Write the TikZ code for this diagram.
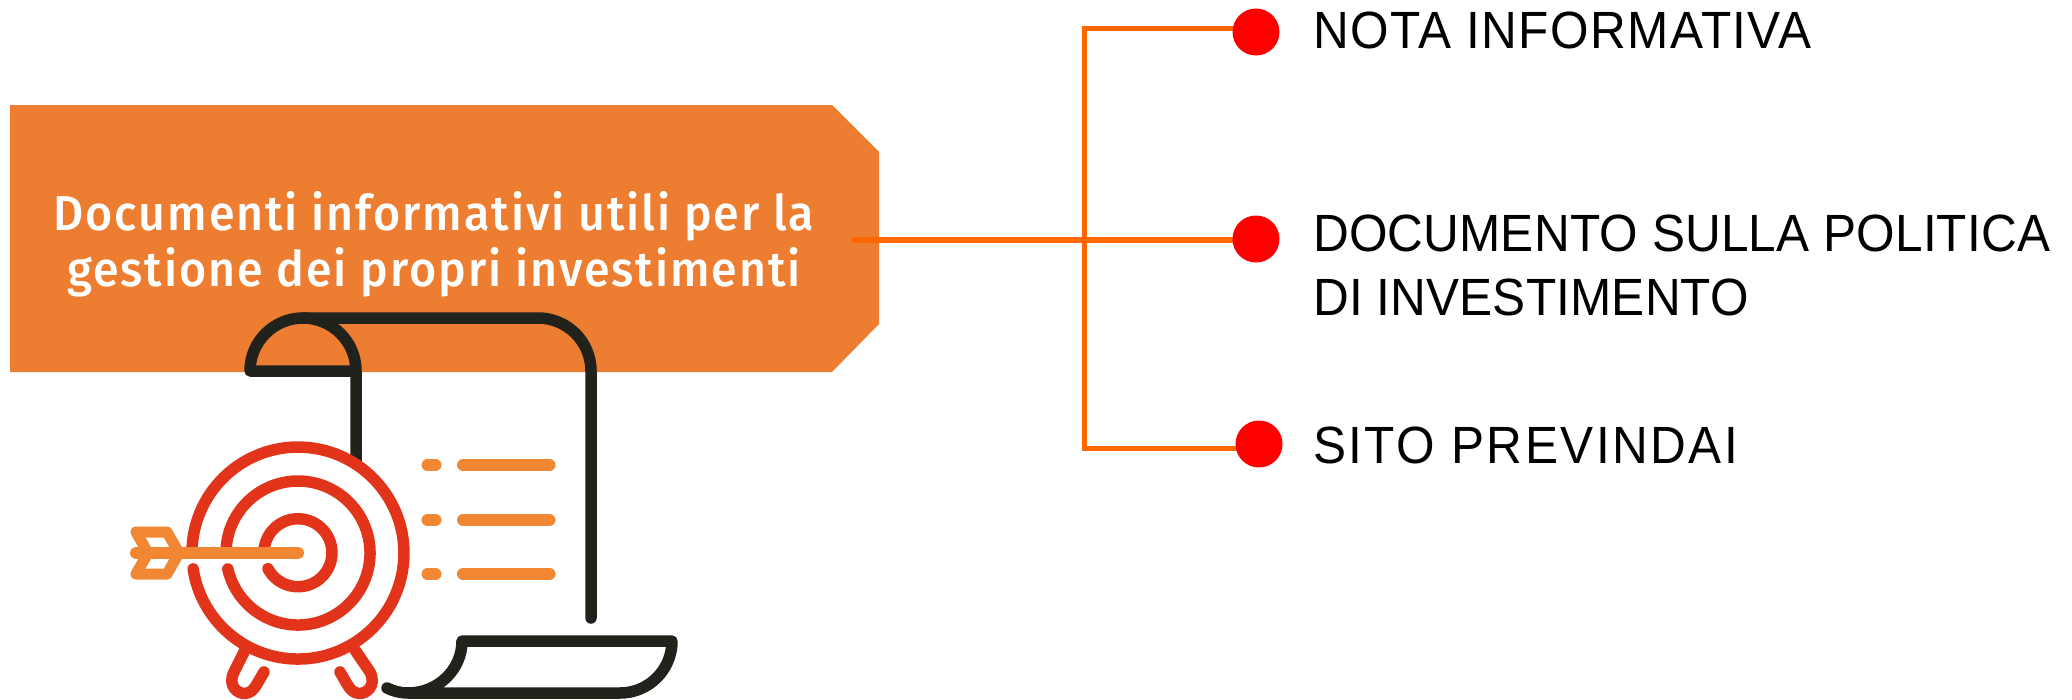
\documentclass[tikz,border=0pt]{standalone}
\usepackage{fontspec}
\setmainfont{Liberation Sans}
\newfontfamily\bannerfont[FakeStretch=0.95,LetterSpace=4]{Fira Sans Medium}
\newfontfamily\itemfonta[FakeStretch=0.945,LetterSpace=2.7]{Liberation Sans}
\newfontfamily\itemfontb[FakeStretch=0.945,LetterSpace=0.3]{Liberation Sans}
\newfontfamily\itemfontc[FakeStretch=0.945,LetterSpace=4.7]{Liberation Sans}
\definecolor{bannerc}{HTML}{ED7D31}
\definecolor{linec}{HTML}{FF6600}
\definecolor{dotc}{HTML}{FF0000}
\definecolor{inkc}{HTML}{22221C}
\definecolor{redc}{HTML}{E1341A}
\definecolor{arrowc}{HTML}{F28733}
\tikzset{
  x=1pt,y=-1pt,
  bannertext/.style={inner sep=0pt,text=white,align=center,font=\bannerfont\fontsize{49}{56}\selectfont},
  itemtext/.style={inner sep=0pt,text=black,align=left,anchor=base west},
  reddot/.style={circle,fill=dotc,inner sep=0pt,minimum size=47pt},
  wire/.style={draw=linec,line width=5pt},
  mainwire/.style={draw=linec,line width=6pt},
  scrollline/.style={draw=inkc,line width=11.5pt,line cap=round,line join=round},
  ringline/.style={draw=redc,line width=11.5pt,line cap=round,line join=round},
  orangeline/.style={draw=arrowc,line width=12pt,line cap=round,line join=round},
}
\begin{document}
\begin{tikzpicture}
\useasboundingbox (0,0) rectangle (2072,699);
% banner
\fill[bannerc] (10,105) -- (832,105) -- (879,152) -- (879,324) -- (832,372) -- (10,372) -- cycle;
\node[bannertext] (title) at (434,244) {Documenti informativi utili per la\\gestione dei propri investimenti};
% connectors
\coordinate (start) at (852,240);
\coordinate (hubtop) at (1084,28);
\coordinate (hubbot) at (1084,448);
\coordinate (d1w) at (1240,28);
\coordinate (d2w) at (1240,240);
\coordinate (d3w) at (1245,448);
\draw[wire] (d1w) -- (hubtop) -- (hubbot) -- (d3w);
\draw[mainwire] (start) -- (d2w);
\node[reddot] (dot1) at (1256,32) {};
\node[reddot] (dot2) at (1256,239) {};
\node[reddot] (dot3) at (1259,444) {};
\node[itemtext,font=\itemfonta\fontsize{52.4}{64}\selectfont] (item1) at (1313,48) {NOTA INFORMATIVA};
\node[itemtext,anchor=north west,font=\itemfontb\fontsize{52.4}{64}\selectfont] (item2) at (1313,215) {DOCUMENTO SULLA POLITICA\\DI INVESTIMENTO};
\node[itemtext,font=\itemfontc\fontsize{52.4}{64}\selectfont] (item3) at (1313,463) {SITO PREVINDAI};
% scroll
\draw[scrollline] (356,371) arc[start angle=0,end angle=180,radius=53pt] -- (356,371) -- (356,462);
\draw[scrollline] (303,318) -- (538,318) arc[start angle=90,end angle=0,radius=53pt] -- (591,618);
\draw[scrollline] (387,688) .. controls (393,691) and (400,693) .. (408,693)
  arc[start angle=-90,end angle=0,x radius=54pt,y radius=52pt] -- (672,641)
  arc[start angle=0,end angle=-90,radius=52pt] -- (408,693);
% bullets
\foreach \yy in {465,520,574}{
  \draw[orangeline] (427.5,\yy) -- (435.5,\yy);
  \draw[orangeline] (463,\yy) -- (549.5,\yy);
}
% target
\draw[ringline] (192.1,547.5) arc[start angle=177,end angle=-171.4,radius=106pt];
\draw[ringline] (226.2,548) arc[start angle=176,end angle=-167.2,radius=72pt];
\draw[ringline] (264.3,548) arc[start angle=172,end angle=-152,radius=34pt];
\draw[ringline] (245,650) -- (234,672) .. controls (227,686) and (238,694) .. (245,693.5) .. controls (251,693) and (254,689) .. (257,684) -- (264,672);
\draw[ringline] (355,650) -- (370,672) .. controls (377,686) and (366,694) .. (359,693.5) .. controls (353,693) and (350,689) .. (347,684) -- (340,672);
% arrow
\draw[orangeline,line width=11pt] (136,532) -- (148,553) -- (136,574) -- (167,574) -- (179,553) -- (167,532) -- cycle;
\draw[orangeline] (136,553) -- (298,553);
\end{tikzpicture}
\end{document}
